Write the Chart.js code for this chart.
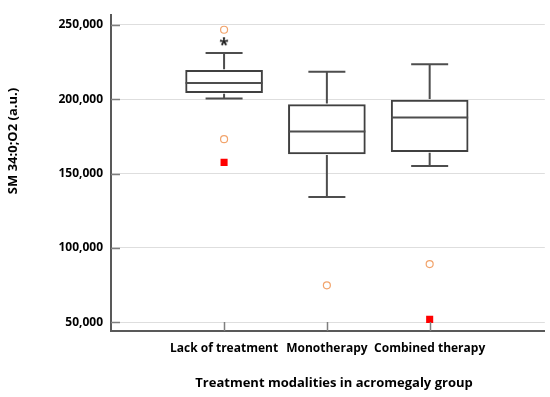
<!DOCTYPE html>
<html>
<head>
<meta charset="utf-8">
<script src="https://cdn.jsdelivr.net/npm/chart.js@4/dist/chart.umd.min.js"></script>
<style>
  html, body { margin: 0; padding: 0; background: #fff; }
  #wrap { width: 550px; height: 397px; }
</style>
</head>
<body>
<div id="wrap"><canvas id="boxChart"></canvas></div>
<script>
// Box plot values
const categories = ['Lack of treatment', 'Monotherapy', 'Combined therapy'];
const q1 = [204400, 163200, 164700];
const median = [210900, 178300, 187700];
const q3 = [219400, 196400, 199400];
const whiskerLow = [200500, 134200, 155100];
const whiskerHigh = [231100, 218500, 223500];
const circleOutliers = [[246700, 173100], [74800], [89100]];
const starOutliers = [[238300], [], []];
const squareMarks = [[157500], [], [51900]];
const yTicks = [50000, 100000, 150000, 200000, 250000];
const xTitle = 'Treatment modalities in acromegaly group';
const yTitle = 'SM 34:0;O2 (a.u.)';

// helper: turn per-category value lists into scatter points
function toPoints(lists) {
    const pts = [];
    lists.forEach((vals, i) => {
        vals.forEach(v => pts.push({ x: i + 1, y: v }));
    });
    return pts;
}

const boxData = categories.map((c, i) => ({ x: i + 1, y: [q1[i], q3[i]] }));

// small canvas with an asterisk, used as point style for extreme values
const starMark = document.createElement('canvas');
starMark.width = 12;
starMark.height = 12;
const sctx = starMark.getContext('2d');
sctx.fillStyle = '#1a1a1a';
sctx.font = 'bold 17px "Open Sans"';
sctx.textAlign = 'center';
sctx.textBaseline = 'middle';
sctx.fillText('*', 6, 10);

// whiskers, medians, inner tick marks and axis titles
const boxExtras = {
    id: 'boxExtras',
    afterDatasetsDraw(chart) {
        const ctx = chart.ctx;
        const xs = chart.scales.x;
        const ys = chart.scales.y;
        const bars = chart.getDatasetMeta(0).data;
        ctx.save();
        ctx.strokeStyle = '#4d4d4d';
        ctx.lineWidth = 2;
        categories.forEach((c, i) => {
            const x = xs.getPixelForValue(i + 1);
            const bar = bars[i];
            const half = bar.width / 2;
            // median
            const ym = ys.getPixelForValue(median[i]);
            ctx.beginPath();
            ctx.moveTo(x - half, ym);
            ctx.lineTo(x + half, ym);
            ctx.stroke();
            // whiskers
            const yTop = ys.getPixelForValue(q3[i]);
            const yBot = ys.getPixelForValue(q1[i]);
            const yHi = ys.getPixelForValue(whiskerHigh[i]);
            const yLo = ys.getPixelForValue(whiskerLow[i]);
            ctx.beginPath();
            ctx.moveTo(x, yTop - 1); ctx.lineTo(x, yHi);
            ctx.moveTo(x - 18.5, yHi); ctx.lineTo(x + 18.5, yHi);
            ctx.moveTo(x, yBot + 1); ctx.lineTo(x, yLo);
            ctx.moveTo(x - 18.5, yLo); ctx.lineTo(x + 18.5, yLo);
            ctx.stroke();
        });
        // short tick marks inside the plot
        const area = chart.chartArea;
        ctx.strokeStyle = '#7f7f7f';
        ctx.lineWidth = 1.5;
        ctx.beginPath();
        yTicks.forEach(v => {
            const y = Math.round(ys.getPixelForValue(v)) + 0.5;
            ctx.moveTo(area.left, y);
            ctx.lineTo(area.left + 9, y);
        });
        categories.forEach((c, i) => {
            const x = Math.round(xs.getPixelForValue(i + 1)) + 0.5;
            ctx.moveTo(x, area.bottom);
            ctx.lineTo(x, area.bottom - 9);
        });
        ctx.stroke();

        // axis titles
        ctx.fillStyle = '#000000';
        ctx.font = 'bold 13px "Open Sans"';
        ctx.textAlign = 'center';
        ctx.textBaseline = 'middle';
        ctx.fillText(xTitle, 334, 383);
        ctx.translate(13, 141);
        ctx.rotate(-Math.PI / 2);
        ctx.fillText(yTitle, 0, 0);
        ctx.restore();
    }
};

const ctx = document.getElementById('boxChart').getContext('2d');
const boxChart = new Chart(ctx, {
    type: 'bar',
    data: {
        datasets: [{
            label: 'box',
            data: boxData,
            backgroundColor: '#ffffff',
            borderColor: '#404040',
            borderWidth: 2,
            borderSkipped: false,
            barThickness: 77,
            order: 2
        }, {
            type: 'scatter',
            label: 'outliers',
            data: toPoints(circleOutliers),
            pointStyle: 'circle',
            radius: 3.5,
            borderWidth: 1.2,
            borderColor: '#f2a46c',
            backgroundColor: '#ffffff',
            order: 1
        }, {
            type: 'scatter',
            label: 'extreme',
            data: toPoints(starOutliers),
            pointStyle: starMark,
            order: 1
        }, {
            type: 'scatter',
            label: 'marks',
            data: toPoints(squareMarks),
            pointStyle: 'rect',
            radius: 5,
            borderWidth: 0,
            backgroundColor: '#ff0000',
            order: 1
        }]
    },
    options: {
        responsive: true,
        maintainAspectRatio: false,
        animation: false,
        layout: { padding: { top: 5, right: 5, left: 0, bottom: 0 } },
        plugins: {
            legend: { display: false },
            tooltip: { enabled: false }
        },
        scales: {
            x: {
                type: 'linear',
                offset: false,
                min: -0.1,
                max: 4.12,
                afterBuildTicks: (scale) => {
                    scale.ticks = categories.map((c, i) => ({ value: i + 1 }));
                },
                afterFit: (scale) => { scale.height = 66; },
                grid: { display: false, drawTicks: false, offset: false },
                border: { color: '#595959', width: 2 },
                ticks: {
                    padding: 10,
                    color: '#000000',
                    font: { family: 'Open Sans', size: 12, weight: 'bold' },
                    callback: (v) => categories[v - 1] || ''
                }
            },
            y: {
                min: 44100,
                max: 256500,
                afterBuildTicks: (scale) => {
                    scale.ticks = yTicks.map(v => ({ value: v }));
                },
                afterFit: (scale) => { scale.width = 111; },
                grid: { color: '#dedede', lineWidth: 1, drawTicks: false },
                border: { color: '#595959', width: 2 },
                ticks: {
                    padding: 8,
                    color: '#000000',
                    font: { family: 'Open Sans', size: 12, weight: 'bold' },
                    callback: (v) => v.toLocaleString('en-US')
                }
            }
        }
    },
    plugins: [boxExtras]
});
</script>
</body>
</html>
